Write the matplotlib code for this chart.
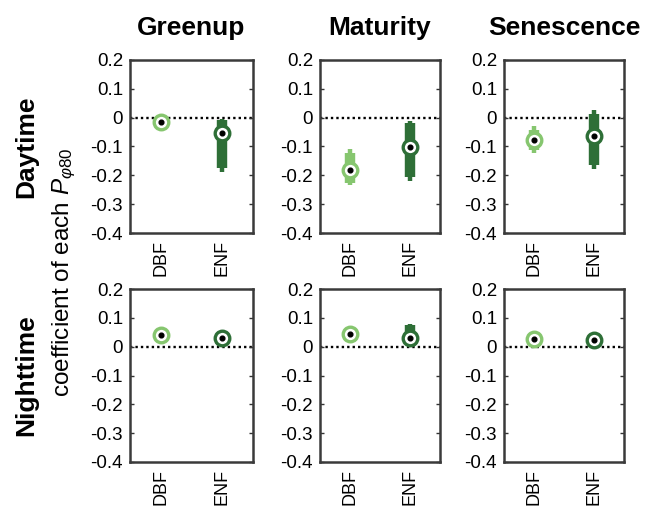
import matplotlib
matplotlib.use("Agg")
import matplotlib.pyplot as plt
import numpy as np

plt.rcParams['font.family'] = ['Liberation Sans', 'DejaVu Sans']
plt.rcParams['mathtext.fontset'] = 'custom'
plt.rcParams['mathtext.rm'] = 'Liberation Sans'
plt.rcParams['mathtext.it'] = 'Liberation Sans:italic'

# ---------------- data ----------------
stages = ["Greenup", "Maturity", "Senescence"]
periods = ["Daytime", "Nighttime"]
types = ["DBF", "ENF"]
yticks = [0.2, 0.1, 0, -0.1, -0.2, -0.3, -0.4]
ytick_labels = ["0.2", "0.1", "0", "-0.1", "-0.2", "-0.3", "-0.4"]

# [period][stage][type]
medians = [
    [[-0.015, -0.054], [-0.183, -0.103], [-0.079, -0.062]],
    [[0.041, 0.029], [0.043, 0.029], [0.026, 0.023]],
]
q1 = [
    [[-0.020, -0.174], [-0.225, -0.207], [-0.112, -0.163]],
    [[0.036, 0.025], [0.038, 0.015], [0.022, 0.019]],
]
q3 = [
    [[-0.010, -0.009], [-0.123, -0.020], [-0.042, 0.013]],
    [[0.046, 0.033], [0.048, 0.075], [0.030, 0.027]],
]
wlo = [
    [[-0.022, -0.189], [-0.232, -0.220], [-0.121, -0.178]],
    [[0.034, 0.022], [0.036, 0.010], [0.020, 0.017]],
]
whi = [
    [[-0.008, -0.004], [-0.109, -0.010], [-0.030, 0.026]],
    [[0.048, 0.036], [0.050, 0.080], [0.032, 0.029]],
]
colors = ["#86c66f", "#2e6f37"]

# ---------------- figure ----------------
fig = plt.figure(figsize=(6.48, 5.09), dpi=100)
W, H = 648.0, 509.0
lefts = [130, 320, 504]
widths = [123, 120, 120]
tops = [60, 289]
ah = 173

for r in range(2):
    for c in range(3):
        ax = fig.add_axes([lefts[c] / W, 1 - (tops[r] + ah) / H, widths[c] / W, ah / H])
        ax.set_xlim(0.5, 2.5)
        ax.set_ylim(-0.4, 0.2)
        ax.axhline(0, color="black", linestyle=(0, (1, 1.3)), lw=1.7, zorder=1)
        for k in range(2):
            x = k + 1
            col = colors[k]
            ax.vlines(x, wlo[r][c][k], whi[r][c][k], color=col, lw=3.2, zorder=2)
            ax.vlines(x, q1[r][c][k], q3[r][c][k], color=col, lw=7.5, zorder=3)
            ax.plot(x, medians[r][c][k], marker="o", ms=10.5, mfc="white",
                    mec=col, mew=2.4, zorder=4)
            ax.plot(x, medians[r][c][k], marker="o", ms=3.4, mfc="black",
                    mec="black", zorder=5)
        ax.set_yticks(yticks)
        ax.set_yticklabels(ytick_labels, fontsize=13.5)
        ax.set_xticks([1, 2])
        ax.set_xticklabels(types, rotation=90, fontsize=13)
        ax.tick_params(axis="y", direction="in", length=3, width=1, right=True,
                       color="#333333", pad=5)
        ax.tick_params(axis="x", length=0, pad=5)
        for s in ax.spines.values():
            s.set_linewidth(1.8)
            s.set_color("#3a3a3a")

for c in range(3):
    cx = (lefts[c] + widths[c] / 2) / W
    fig.text(cx, 1 - 28 / H, stages[c], fontsize=19, fontweight="bold",
             ha="center", va="center")

for r in range(2):
    cy = 1 - (tops[r] + ah / 2) / H
    fig.text(26 / W, cy, periods[r], fontsize=19, fontweight="bold",
             rotation=90, ha="center", va="center")

fig.text(64 / W, 1 - 272 / H, r"coefficient of each $P_{\varphi 80}$", fontsize=17.5,
         rotation=90, ha="center", va="center")

fig.savefig("out.png", dpi=100)
